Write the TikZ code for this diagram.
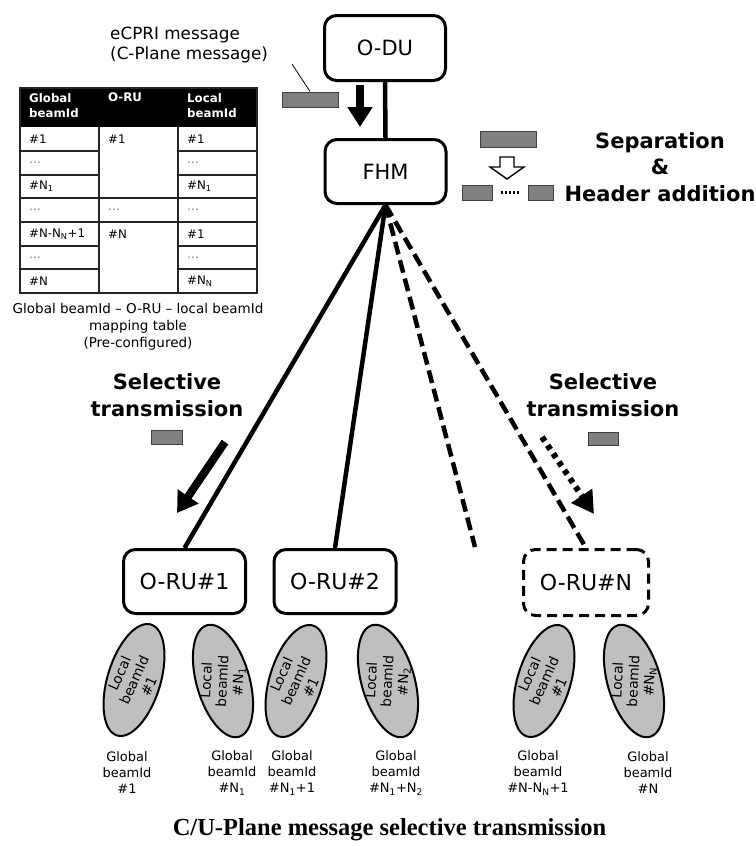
\documentclass[tikz,border=0pt]{standalone}
\usepackage{fontspec}
\setmainfont{DejaVu Sans}
\newfontfamily\titlefont{Liberation Serif}
\usetikzlibrary{arrows.meta,shapes.geometric,calc}

\newcommand{\fs}[2]{\fontsize{#1}{#2}\selectfont}

\tikzset{
  unitbox/.style={draw, line width=3pt, rounded corners=12pt, fill=white,
    inner sep=0pt, font=\fs{21}{24}},
  rubox/.style={unitbox, minimum width=122pt, minimum height=64pt, font=\fs{22}{25}},
  msgbar/.style={draw=black!75, line width=1pt, fill=black!50, inner sep=0pt},
  beam/.style={ellipse, draw, line width=2pt, fill=black!25, inner sep=0pt,
    minimum width=116pt, minimum height=53pt},
  beamtext/.style={align=center, inner sep=0pt, font=\fs{13.8}{16}},
  glabel/.style={align=center, inner sep=0pt, font=\fs{13}{16}},
  headline/.style={align=center, inner sep=0pt, font=\bfseries\fs{21}{26.5}},
  link/.style={line width=4.5pt},
  linkdash/.style={link, dash pattern=on 13pt off 6pt},
  fatarrow/.style={line width=8pt, -{Triangle[width=24pt,length=20pt]}},
  dotarrow/.style={line width=6pt, dash pattern=on 5pt off 5pt,
    -{Triangle[width=24pt,length=22pt]}},
  cell/.style={anchor=west, inner sep=0pt, font=\fs{11.8}{14}},
  celldots/.style={cell, text=black!55},
  hdr/.style={anchor=north west, align=left, inner sep=0pt, text=white,
    font=\bfseries\fs{11.8}{15}},
  grid/.style={draw=black!85, line width=1.2pt}
}

\begin{document}
\begin{tikzpicture}[x=1pt,y=-1pt]
\useasboundingbox (0,0) rectangle (755,846);

% ---------- O-DU and FHM ----------
\node[unitbox, minimum width=121pt, minimum height=65pt] (odu) at (385,48) {O-DU};
\node[unitbox, minimum width=121pt, minimum height=64pt] (fhm) at (385.5,171.5) {FHM};
\draw[link] (odu.south) -- (fhm.north);

% message arriving from the O-DU
\node[align=left, inner sep=0pt, anchor=west, font=\fs{16.8}{20}] (ecpri) at (110,45)
  {eCPRI message\\(C-Plane message)};
\node[msgbar, minimum width=56pt, minimum height=15pt] (msg0) at (310,99.5) {};
\coordinate (lead) at (292,64);
\draw[line width=0.8pt] (lead) -- (msg0.north);
\coordinate (a0s) at (360,85);
\coordinate (a0e) at (360,127);
\draw[fatarrow] (a0s) -- (a0e);

% separation and header addition
\node[msgbar, minimum width=56pt, minimum height=16pt] (msg1) at (508,139) {};
\draw[line width=1.4pt, fill=white]
  (500,157) -- (514,157) -- (514,167) -- (524,167) -- (507,179)
  -- (490,167) -- (500,167) -- cycle;
\node[msgbar, minimum width=30pt, minimum height=15pt] (part1) at (477,192.5) {};
\node[msgbar, minimum width=25pt, minimum height=15pt] (part2) at (540.5,192.5) {};
\draw[line width=2.5pt, dash pattern=on 2pt off 2.2pt]
  ([xshift=8pt]part1.east) -- ([xshift=-8pt]part2.west);
\node[headline] (sep) at (660,167) {Separation\\\&\\Header addition};

% ---------- mapping table ----------
\fill (20,88) rectangle (257,127);
\node[hdr] (h1) at (29,93) {Global\\beamId};
\node[hdr] (h2) at (108,93) {O-RU};
\node[hdr] (h3) at (187,93) {Local\\beamId};
\draw[grid] (20,88) rectangle (257,293);
\draw[grid] (99,127) -- (99,293) (178,127) -- (178,293);
\foreach \yy in {151,175,246,269} {
  \draw[grid] (20,\yy) -- (99,\yy) (178,\yy) -- (257,\yy);
}
\draw[grid] (20,198) -- (257,198) (20,222) -- (257,222);

\node[cell] (c11) at (29,139) {\#1};
\node[celldots] (c21) at (29,163) {…};
\node[cell] (c31) at (29,186.5) {\#N\textsubscript{1}};
\node[celldots] (c41) at (29,210) {…};
\node[cell] (c51) at (29,234) {\#N-N\textsubscript{N}+1};
\node[celldots] (c61) at (29,257.5) {…};
\node[cell] (c71) at (29,281) {\#N};

\node[cell] (c12) at (108,139) {\#1};
\node[celldots] (c42) at (108,210) {…};
\node[cell] (c52) at (108,234) {\#N};

\node[cell] (c13) at (187,139) {\#1};
\node[celldots] (c23) at (187,163) {…};
\node[cell] (c33) at (187,186.5) {\#N\textsubscript{1}};
\node[celldots] (c43) at (187,210) {…};
\node[cell] (c53) at (187,234) {\#1};
\node[celldots] (c63) at (187,257.5) {…};
\node[cell] (c73) at (187,281) {\#N\textsubscript{N}};

\node[align=center, inner sep=0pt, font=\fs{13.5}{17}] (caption) at (138,327)
  {Global beamId – O-RU – local beamId\\mapping table\\(Pre-configured)};

% ---------- O-RUs ----------
\node[rubox] (oru1) at (184.5,581.5) {O-RU\#1};
\node[rubox] (oru2) at (335,581.5) {O-RU\#2};
\node[rubox, dash pattern=on 10pt off 6pt, minimum width=125pt, minimum height=66pt]
  (orun) at (586,582.5) {O-RU\#N};

\draw[link] (fhm.south) -- (oru1.north);
\draw[link] (fhm.south) -- (oru2.north);
\coordinate (gapend) at (475,547);
\draw[linkdash] (fhm.south) -- (gapend);
\draw[linkdash] (fhm.south) -- (orun.north);

% selective transmission
\node[headline] (sel1) at (167,395) {Selective\\transmission};
\node[msgbar, minimum width=31pt, minimum height=14pt] (msg2) at (166.5,437) {};
\coordinate (a1s) at (225,442);
\coordinate (a1e) at (177,513);
\draw[fatarrow] (a1s) -- (a1e);

\node[headline] (sel2) at (603,395) {Selective\\transmission};
\node[msgbar, minimum width=30pt, minimum height=13pt] (msg3) at (603,438.5) {};
\coordinate (a2s) at (542,437);
\coordinate (a2e) at (594,514);
\draw[dotarrow] (a2s) -- (a2e);

% ---------- beams ----------
\node[beam, rotate=73] (b1) at (134,680) {};
\node[beamtext, rotate=66] (t1) at (134,680) {Local\\beamId\\\#1};
\node[beam, rotate=106] (b2) at (223,681) {};
\node[beamtext, rotate=87] (t2) at (223,681) {Local\\beamId\\\#N\textsubscript{1}};
\node[beam, rotate=73] (b3) at (296,681) {};
\node[beamtext, rotate=66] (t3) at (296,681) {Local\\beamId\\\#1};
\node[beam, rotate=106] (b4) at (388,681) {};
\node[beamtext, rotate=87] (t4) at (388,681) {Local\\beamId\\\#N\textsubscript{2}};
\node[beam, rotate=73] (b5) at (544,681) {};
\node[beamtext, rotate=66] (t5) at (544,681) {Local\\beamId\\\#1};
\node[beam, rotate=106] (b6) at (634,681) {};
\node[beamtext, rotate=87] (t6) at (634,681) {Local\\beamId\\\#N\textsubscript{N}};

\node[glabel] (g1) at (127,773) {Global\\beamId\\\#1};
\node[glabel] (g2) at (232,773) {Global\\beamId\\\#N\textsubscript{1}};
\node[glabel] (g3) at (292,773) {Global\\beamId\\\#N\textsubscript{1}+1};
\node[glabel] (g4) at (396,773) {Global\\beamId\\\#N\textsubscript{1}+N\textsubscript{2}};
\node[glabel] (g5) at (538,773) {Global\\beamId\\\#N-N\textsubscript{N}+1};
\node[glabel] (g6) at (648,773) {Global\\beamId\\\#N};

% ---------- title ----------
\node[anchor=base, inner sep=0pt, font=\titlefont\bfseries\fs{24.5}{28}] (title)
  at (389.5,835) {C/U-Plane message selective transmission};
\end{tikzpicture}
\end{document}
